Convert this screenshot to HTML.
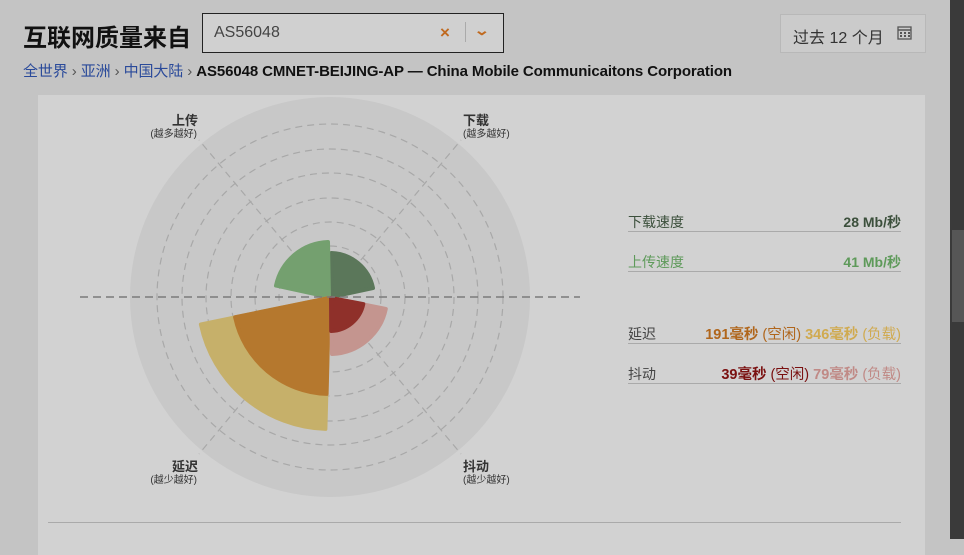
<!DOCTYPE html>
<html><head><meta charset="utf-8"><style>
body{margin:0;width:964px;height:539px;overflow:hidden;background:#c4c4c4;font-family:"Liberation Sans","Noto Sans CJK SC",sans-serif;position:relative}
.a{position:absolute;white-space:nowrap}
</style></head><body>
<div class="a" style="left:23px;top:18px;font-size:24px;font-weight:bold;color:#111">互联网质量来自</div>
<div class="a" style="left:202px;top:13px;width:300px;height:38px;border:1px solid #222;background:#d0d0d0"></div>
<div class="a" style="left:214px;top:24px;font-size:16px;color:#444">AS56048</div>
<div class="a" style="left:440px;top:23px;font-size:17px;color:#c06a20;font-weight:bold">×</div>
<div class="a" style="left:465px;top:22px;width:1px;height:20px;background:#aaa"></div>
<div class="a" style="left:476px;top:22px;font-size:14px;color:#c06a20;font-weight:bold;transform:scaleX(1.4)">⌄</div>
<div class="a" style="left:780px;top:14px;width:144px;height:37px;border:1px solid #b8b8b8;background:#cbcbcb"></div>
<div class="a" style="left:793px;top:24px;font-size:16px;color:#333">过去 12 个月</div>
<svg class="a" style="left:897px;top:25px" width="16" height="15"><rect x="1" y="2" width="13" height="12" fill="none" stroke="#555" stroke-width="1.3"/><line x1="1" y1="5" x2="14" y2="5" stroke="#555" stroke-width="1.5"/><g fill="#555"><rect x="3" y="7" width="2" height="2"/><rect x="7" y="7" width="2" height="2"/><rect x="11" y="7" width="2" height="2"/><rect x="3" y="10" width="2" height="2"/><rect x="7" y="10" width="2" height="2"/><rect x="11" y="10" width="2" height="2"/></g></svg>
<div class="a" style="left:23px;top:60px;font-size:15px;color:#2a4a9a;letter-spacing:-0.1px">全世界 <span style="color:#555">›</span> 亚洲 <span style="color:#555">›</span> 中国大陆 <span style="color:#555">›</span> <b style="color:#111">AS56048 CMNET-BEIJING-AP — China Mobile Communicaitons Corporation</b></div>
<div class="a" style="left:38px;top:95px;width:887px;height:460px;background:#d2d2d2"></div>
<div class="a" style="left:950px;top:0;width:14px;height:539px;background:#3a3a3a"></div>
<div class="a" style="left:952px;top:230px;width:12px;height:92px;background:#565656"></div>
<svg class="a" style="left:0;top:0" width="940" height="539">
<circle cx="330" cy="297" r="200" fill="#c8c8c8"/>
<g fill="none" stroke="#a8a8a8" stroke-width="1.2" stroke-dasharray="7,5">
<circle cx="330" cy="297" r="51"/><circle cx="330" cy="297" r="75"/><circle cx="330" cy="297" r="99"/><circle cx="330" cy="297" r="124"/><circle cx="330" cy="297" r="148"/><circle cx="330" cy="297" r="173"/>
<line x1="330" y1="297" x2="199" y2="140"/><line x1="330" y1="297" x2="461" y2="140"/><line x1="330" y1="297" x2="199" y2="454"/><line x1="330" y1="297" x2="461" y2="454"/>
</g>
<g stroke-linejoin="round" stroke-width="4">
<path d="M331,297 L331.5,253 A44 44 0 0 1 373,288 Z" fill="#5b775a" stroke="#5b775a"/>
<path d="M329,297 L328,242 A55 55 0 0 0 276,285.6 Z" fill="#74a06f" stroke="#74a06f"/>
<path d="M329,298 L325.4,428.9 A132 132 0 0 1 200.9,324.4 Z" fill="#c6b06a" stroke="#c6b06a"/>
<path d="M329,298 L326.6,393.9 A97 97 0 0 1 235.1,317.2 Z" fill="#b5782e" stroke="#b5782e"/>
<path d="M331,298 L332,354 A57 57 0 0 0 385.8,308.9 Z" fill="#c4958f" stroke="#c4958f"/>
<path d="M331,298 L331.2,331 A34 34 0 0 0 363.3,304.1 Z" fill="#8f302a" stroke="#8f302a"/>
</g>
<line x1="80" y1="297" x2="580" y2="297" stroke="#7a7a7a" stroke-width="1.6" stroke-dasharray="8,5"/>
<g font-family="Liberation Sans,Noto Sans CJK SC,sans-serif" fill="#333">
<text x="198" y="125" font-size="13" font-weight="bold" text-anchor="end">上传</text><text x="197" y="137" font-size="10" text-anchor="end">(越多越好)</text>
<text x="463" y="125" font-size="13" font-weight="bold">下载</text><text x="463" y="137" font-size="10">(越多越好)</text>
<text x="198" y="471" font-size="13" font-weight="bold" text-anchor="end">延迟</text><text x="197" y="483" font-size="10" text-anchor="end">(越少越好)</text>
<text x="463" y="471" font-size="13" font-weight="bold">抖动</text><text x="463" y="483" font-size="10">(越少越好)</text>
</g>
<g stroke="#aaa" stroke-width="1"><line x1="628" y1="231.5" x2="901" y2="231.5"/><line x1="628" y1="271.5" x2="901" y2="271.5"/><line x1="628" y1="343.5" x2="901" y2="343.5"/><line x1="628" y1="383.5" x2="901" y2="383.5"/><line x1="48" y1="522.5" x2="901" y2="522.5"/></g>
<g font-family="Liberation Sans,Noto Sans CJK SC,sans-serif" font-size="14">
<text x="628" y="227" fill="#3c503c">下载速度</text><text x="901" y="227" fill="#3c503c" font-weight="bold" text-anchor="end">28 Mb/秒</text>
<text x="628" y="267" fill="#5e9a5a">上传速度</text><text x="901" y="267" fill="#5e9a5a" font-weight="bold" text-anchor="end">41 Mb/秒</text>
<text x="628" y="339" fill="#444">延迟</text>
<text x="901" y="339" text-anchor="end" font-size="14.5"><tspan fill="#b0661c" font-weight="bold">191毫秒</tspan><tspan fill="#b0661c"> (空闲)   </tspan><tspan fill="#d0aa50" font-weight="bold">346毫秒</tspan><tspan fill="#d0aa50"> (负载)</tspan></text>
<text x="628" y="379" fill="#444">抖动</text>
<text x="901" y="379" text-anchor="end" font-size="14.5"><tspan fill="#7a1010" font-weight="bold">39毫秒</tspan><tspan fill="#7a1010"> (空闲)   </tspan><tspan fill="#c08a86" font-weight="bold">79毫秒</tspan><tspan fill="#c08a86"> (负载)</tspan></text>
</g>
</svg>
</body></html>
